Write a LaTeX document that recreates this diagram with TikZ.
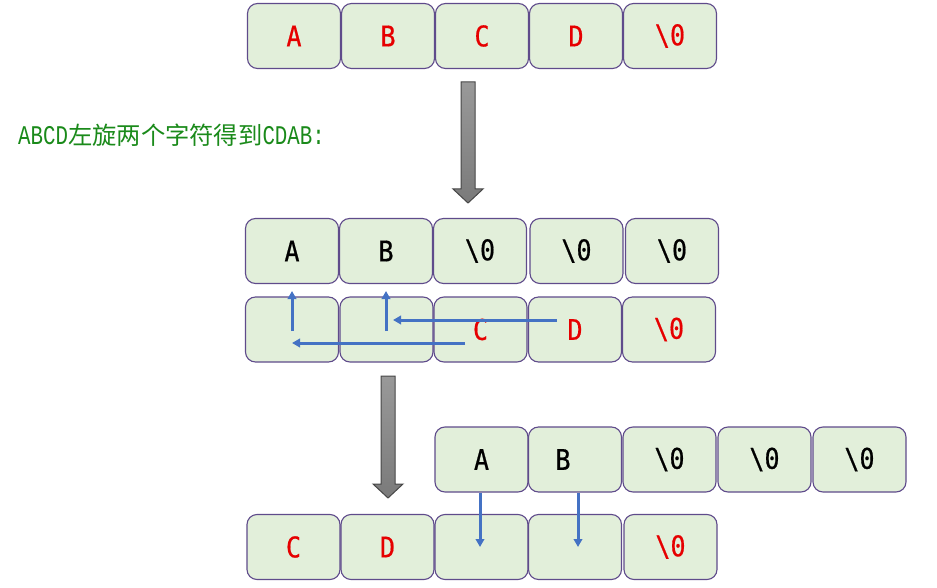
\documentclass[tikz,border=0pt]{standalone}
\usepackage{fontspec}
\usetikzlibrary{arrows.meta}
\newfontfamily\cjkf{Noto Sans CJK SC}
\newfontfamily\latnf{Liberation Mono}[FakeStretch=0.77]
\newfontfamily\cellf{DejaVu Sans Mono}[FakeStretch=0.88,FakeBold=0.6]
\definecolor{cellfill}{HTML}{E2EFDA}
\definecolor{celledge}{HTML}{5F4B8B}
\definecolor{bluearr}{HTML}{4472C4}
\definecolor{cellred}{HTML}{E60000}
\definecolor{txtgreen}{HTML}{1A8A1A}
\tikzset{
  cell/.style={draw=celledge, fill=cellfill, line width=1.1pt, rounded corners=10pt,
    minimum width=93pt, minimum height=65pt, inner sep=0pt, font=\cellf\fontsize{28.5}{30}\selectfont, text=black},
  redtxt/.style={text=cellred},
  movearrow/.style={draw=bluearr, line width=3pt, -{Triangle[length=8pt,width=8.5pt]}},
  bigarrow/.style={draw=black!72, line width=1pt, top color=black!40, bottom color=black!52}
}
\begin{document}
\begin{tikzpicture}[x=1pt,y=-1pt]
\useasboundingbox (0,0) rectangle (937,588);
% row 1
\node[cell,redtxt] (r1a) at (294,36) {A};
\node[cell,redtxt] (r1b) at (388,36) {B};
\node[cell,redtxt] (r1c) at (482,36) {C};
\node[cell,redtxt] (r1d) at (576,36) {D};
\node[cell,redtxt] (r1e) at (670,36) {\textbackslash 0};
% caption
\node[anchor=west, inner sep=0pt, text=txtgreen] (cap) at (18,135)
  {{\latnf\fontsize{27}{28}\selectfont ABCD}{\cjkf\fontsize{24.3}{26}\selectfont 左旋两个字符得到}{\latnf\fontsize{27}{28}\selectfont CDAB:}};
% big arrow 1
\path[bigarrow] (461,82) -- (475,82) -- (475,189) -- (483,189) -- (468,203) -- (453,189) -- (461,189) -- cycle;
% row 2
\node[cell] (r2a) at (292,251) {A};
\node[cell] (r2b) at (386,251) {B};
\node[cell] (r2c) at (480,251) {\textbackslash 0};
\node[cell] (r2d) at (576.5,251) {\textbackslash 0};
\node[cell] (r2e) at (672,251) {\textbackslash 0};
% row 3
\node[cell] (r3a) at (292,329.5) {};
\node[cell] (r3b) at (386.5,329.5) {};
\node[cell,redtxt] (r3c) at (480.5,329.5) {C};
\node[cell,redtxt] (r3d) at (575,329.5) {D};
\node[cell,redtxt] (r3e) at (669,329.5) {\textbackslash 0};
% blue arrows row 3
\coordinate (cfrom) at (465,343);
\coordinate (cto) at (292,343);
\coordinate (dfrom) at (557,320);
\coordinate (dto) at (393,320);
\coordinate (aup0) at (292,331);
\coordinate (aup1) at (292,291);
\coordinate (bup0) at (386,331);
\coordinate (bup1) at (386,291);
\draw[movearrow] (cfrom) -- (cto);
\draw[movearrow] (dfrom) -- (dto);
\draw[movearrow] (aup0) -- (aup1);
\draw[movearrow] (bup0) -- (bup1);
% big arrow 2
\path[bigarrow] (381,376) -- (395,376) -- (395,484) -- (403,484) -- (388,498) -- (373,484) -- (381,484) -- cycle;
% row 4
\node[cell] (r4a) at (481.5,459.5) {A};
\node[cell] (r4b) at (575,459.5) {\hspace*{-24pt}B};
\node[cell] (r4c) at (669.5,459.5) {\textbackslash 0};
\node[cell] (r4d) at (764.5,459.5) {\textbackslash 0};
\node[cell] (r4e) at (859.5,459.5) {\textbackslash 0};
% row 5
\node[cell,redtxt] (r5a) at (293.5,547) {C};
\node[cell,redtxt] (r5b) at (387.5,547) {D};
\node[cell] (r5c) at (481.5,547) {};
\node[cell] (r5d) at (575,547) {};
\node[cell,redtxt] (r5e) at (670.5,547) {\textbackslash 0};
% blue arrows row 4 -> row 5
\coordinate (adown) at (480,547);
\coordinate (bdown) at (578,547);
\draw[movearrow] (r4a.south -| adown) -- (adown);
\draw[movearrow] (r4b.south -| bdown) -- (bdown);
\end{tikzpicture}
\end{document}
